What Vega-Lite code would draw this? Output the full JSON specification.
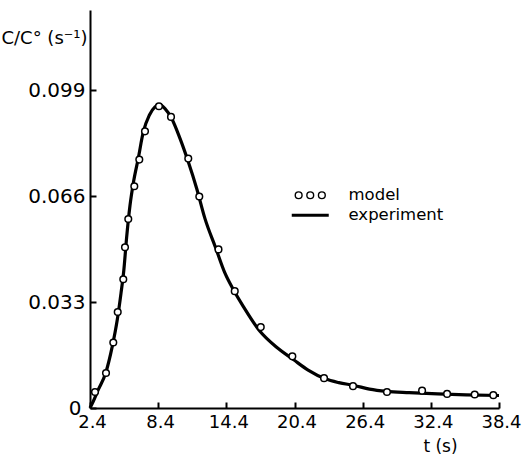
{
  "$schema": "https://vega.github.io/schema/vega-lite/v6.json",
  "width": 409,
  "height": 398,
  "autosize": {"type": "none"},
  "padding": {"left": 90, "top": 10, "right": 26, "bottom": 46},
  "background": "white",
  "config": {
    "view": {"stroke": null},
    "font": "DejaVu Sans",
    "axis": {
      "domainColor": "black", "domainWidth": 2, "tickColor": "black", "tickWidth": 2,
      "labelColor": "black", "grid": false, "titleColor": "black",
      "labelFont": "DejaVu Sans", "titleFont": "DejaVu Sans", "titleFontWeight": "normal"
    }
  },
  "datasets": {
    "experiment": [
      {"t": 2.4, "value": 0, "series": "experiment"},
      {"t": 2.69, "value": 0.0021, "series": "experiment"},
      {"t": 3.13, "value": 0.0057, "series": "experiment"},
      {"t": 3.78, "value": 0.0109, "series": "experiment"},
      {"t": 4.36, "value": 0.0192, "series": "experiment"},
      {"t": 4.8, "value": 0.0275, "series": "experiment"},
      {"t": 5.13, "value": 0.0358, "series": "experiment"},
      {"t": 5.38, "value": 0.043, "series": "experiment"},
      {"t": 5.62, "value": 0.053, "series": "experiment"},
      {"t": 5.92, "value": 0.0631, "series": "experiment"},
      {"t": 6.21, "value": 0.07, "series": "experiment"},
      {"t": 6.65, "value": 0.0778, "series": "experiment"},
      {"t": 7.09, "value": 0.086, "series": "experiment"},
      {"t": 7.62, "value": 0.0912, "series": "experiment"},
      {"t": 8.12, "value": 0.0938, "series": "experiment"},
      {"t": 8.5, "value": 0.0945, "series": "experiment"},
      {"t": 9.0, "value": 0.0933, "series": "experiment"},
      {"t": 9.59, "value": 0.0902, "series": "experiment"},
      {"t": 10.32, "value": 0.084, "series": "experiment"},
      {"t": 11.05, "value": 0.0767, "series": "experiment"},
      {"t": 11.79, "value": 0.0684, "series": "experiment"},
      {"t": 12.52, "value": 0.059, "series": "experiment"},
      {"t": 13.45, "value": 0.05, "series": "experiment"},
      {"t": 14.28, "value": 0.042, "series": "experiment"},
      {"t": 15.0, "value": 0.037, "series": "experiment"},
      {"t": 15.9, "value": 0.0316, "series": "experiment"},
      {"t": 17.36, "value": 0.0239, "series": "experiment"},
      {"t": 18.8, "value": 0.019, "series": "experiment"},
      {"t": 20.3, "value": 0.0151, "series": "experiment"},
      {"t": 21.6, "value": 0.0118, "series": "experiment"},
      {"t": 23.1, "value": 0.0091, "series": "experiment"},
      {"t": 24.3, "value": 0.0079, "series": "experiment"},
      {"t": 25.67, "value": 0.007, "series": "experiment"},
      {"t": 27.0, "value": 0.0059, "series": "experiment"},
      {"t": 28.5, "value": 0.0052, "series": "experiment"},
      {"t": 30.5, "value": 0.0048, "series": "experiment"},
      {"t": 33.0, "value": 0.0044, "series": "experiment"},
      {"t": 35.5, "value": 0.0041, "series": "experiment"},
      {"t": 38.4, "value": 0.0039, "series": "experiment"}
    ],
    "model": [
      {"t": 2.84, "value": 0.005, "series": "model"},
      {"t": 3.81, "value": 0.0109, "series": "model"},
      {"t": 4.45, "value": 0.0204, "series": "model"},
      {"t": 4.84, "value": 0.0299, "series": "model"},
      {"t": 5.33, "value": 0.0401, "series": "model"},
      {"t": 5.48, "value": 0.0501, "series": "model"},
      {"t": 5.77, "value": 0.0589, "series": "model"},
      {"t": 6.3, "value": 0.0691, "series": "model"},
      {"t": 6.74, "value": 0.0774, "series": "model"},
      {"t": 7.24, "value": 0.0862, "series": "model"},
      {"t": 8.47, "value": 0.094, "series": "model"},
      {"t": 9.53, "value": 0.0907, "series": "model"},
      {"t": 11.05, "value": 0.0777, "series": "model"},
      {"t": 12.02, "value": 0.0659, "series": "model"},
      {"t": 13.71, "value": 0.0494, "series": "model"},
      {"t": 15.14, "value": 0.0364, "series": "model"},
      {"t": 17.43, "value": 0.0252, "series": "model"},
      {"t": 20.21, "value": 0.0161, "series": "model"},
      {"t": 23.0, "value": 0.0093, "series": "model"},
      {"t": 25.55, "value": 0.0068, "series": "model"},
      {"t": 28.54, "value": 0.005, "series": "model"},
      {"t": 31.63, "value": 0.0054, "series": "model"},
      {"t": 33.83, "value": 0.0044, "series": "model"},
      {"t": 36.26, "value": 0.0042, "series": "model"},
      {"t": 37.9, "value": 0.004, "series": "model"}
    ]
  },
  "encoding": {
    "x": {
      "field": "t", "type": "quantitative",
      "scale": {"domain": [2.4, 38.4], "nice": false, "zero": false},
      "axis": {
        "values": [2.4, 8.4, 14.4, 20.4, 26.4, 32.4, 38.4], "format": ".1f",
        "tickSize": -6, "labelPadding": 11, "labelOffset": 2, "labelFontSize": 18,
        "labelFlush": false, "labelOverlap": false, "labelBound": false,
        "title": "t (s)", "titleX": 350, "titleY": 38, "titleAlign": "center",
        "titleBaseline": "middle", "titleFontSize": 17
      }
    },
    "y": {
      "field": "value", "type": "quantitative",
      "scale": {"domain": [0, 0.124], "nice": false},
      "axis": {
        "values": [0, 0.033, 0.066, 0.099],
        "labelExpr": "datum.value === 0 ? '0' : format(datum.value, '.3f')",
        "tickSize": -6,
        "labelPadding": {"condition": {"test": "datum.value === 0", "value": 15}, "value": 11},
        "labelFontSize": 20,
        "labelFlush": false, "labelOverlap": false, "labelBound": false,
        "title": "C/C° (s⁻¹)", "titleAngle": 0, "titleAlign": "right",
        "titleBaseline": "middle", "titleX": -3, "titleY": 28, "titleFontSize": 18
      }
    },
    "stroke": {
      "field": "series", "type": "nominal",
      "scale": {"domain": ["model", "experiment"], "range": ["black", "black"]},
      "legend": {
        "orient": "none", "legendX": 212, "legendY": 177, "title": null,
        "labelFontSize": 16.5, "labelFont": "DejaVu Sans", "labelColor": "black",
        "symbolSize": 100, "labelOffset": 30, "rowPadding": 3, "padding": 0,
        "encode": {
          "symbols": {
            "update": {
              "shape": {"signal": "datum.value === 'model' ? 'M -3.0 0 A 0.68 0.68 0 1 0 -1.64 0 A 0.68 0.68 0 1 0 -3.0 0 M -0.68 0 A 0.68 0.68 0 1 0 0.68 0 A 0.68 0.68 0 1 0 -0.68 0 M 1.64 0 A 0.68 0.68 0 1 0 3.0 0 A 0.68 0.68 0 1 0 1.64 0' : 'M -3.7 0 L 3.7 0'"},
              "strokeWidth": {"signal": "datum.value === 'model' ? 1.4 : 3.2"},
              "fill": {"value": "transparent"},
              "stroke": {"value": "black"},
              "opacity": {"value": 1}
            }
          }
        }
      }
    }
  },
  "layer": [
    {
      "data": {"name": "experiment"},
      "mark": {"type": "line", "strokeWidth": 3.2, "interpolate": "monotone"}
    },
    {
      "data": {"name": "model"},
      "mark": {"type": "point", "shape": "circle", "filled": true, "fill": "white", "size": 44, "strokeWidth": 1.5, "opacity": 1}
    }
  ]
}
